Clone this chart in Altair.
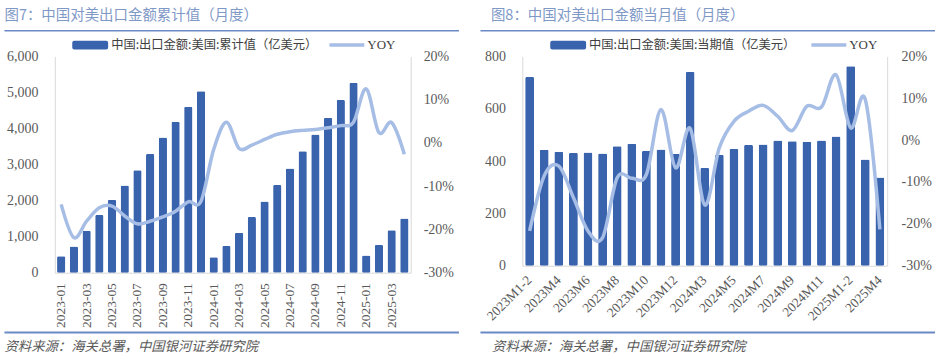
import altair as alt
import pandas as pd

# ---------------- data ----------------
months_l = ["2023-01", "2023-02", "2023-03", "2023-04", "2023-05", "2023-06",
            "2023-07", "2023-08", "2023-09", "2023-10", "2023-11", "2023-12",
            "2024-01", "2024-02", "2024-03", "2024-04", "2024-05", "2024-06",
            "2024-07", "2024-08", "2024-09", "2024-10", "2024-11", "2024-12",
            "2025-01", "2025-02", "2025-03", "2025-04"]
cum_value = [455, 725, 1165, 1600, 2025, 2420, 2845, 3290, 3750, 4190, 4605, 5030,
             430, 740, 1110, 1545, 1975, 2430, 2890, 3370, 3830, 4300, 4790, 5270,
             480, 770, 1175, 1500]
cum_yoy = [-14.2, -21.9, -18.1, -15.0, -14.6, -16.9, -18.7, -18.1, -17.1, -15.8, -13.6, -13.5,
           -1.5, 4.8, -1.3, -0.5, 0.8, 2.0, 2.6, 2.9, 3.1, 3.5, 4.0, 4.8,
           12.5, 2.4, 4.7, -2.6]
ticks_l = ["2023-01", "2023-03", "2023-05", "2023-07", "2023-09", "2023-11",
           "2024-01", "2024-03", "2024-05", "2024-07", "2024-09", "2024-11",
           "2025-01", "2025-03"]

months_r = ["2023M1-2", "2023M3", "2023M4", "2023M5", "2023M6", "2023M7", "2023M8",
            "2023M9", "2023M10", "2023M11", "2023M12",
            "2024M1-2", "2024M3", "2024M4", "2024M5", "2024M6", "2024M7", "2024M8",
            "2024M9", "2024M10", "2024M11", "2024M12",
            "2025M1-2", "2025M3", "2025M4"]
mon_value = [721, 443, 436, 431, 433, 429, 457, 466, 438, 444, 427,
             740, 373, 423, 446, 461, 463, 479, 476, 474, 479, 494,
             762, 406, 337]
mon_yoy = [-21.7, -8.5, -6.2, -13.7, -21.7, -23.3, -9.0, -9.1, -8.2, 7.3, -6.6,
           2.8, -15.5, -1.8, 4.5, 6.9, 8.3, 5.7, 2.3, 8.1, 7.9, 15.6,
           2.9, 9.7, -21.3]
ticks_r = ["2023M1-2", "2023M4", "2023M6", "2023M8", "2023M10", "2023M12",
           "2024M3", "2024M5", "2024M7", "2024M9", "2024M11", "2025M1-2", "2025M4"]

title_l = "图7：中国对美出口金额累计值（月度）"
title_r = "图8：中国对美出口金额当月值（月度）"
legend_l = "中国:出口金额:美国:累计值（亿美元）"
legend_r = "中国:出口金额:美国:当期值（亿美元）"
source_txt = "资料来源：海关总署，中国银河证券研究院"

# ---------------- styles ----------------
FONT_NUM = "Liberation Serif"
FONT_CJK = "Noto Sans CJK SC"
BAR = "#3A63AD"
LINE = "#A6BDE5"
TITLE_C = "#7F99C7"
RULE_C = "#6A8AC6"
AX = "#595959"
DOM = "#D9D9D9"


def one():
    return pd.DataFrame({"k": [0]})


def panel(cats, vals, yoy, ticks, title, legend, W, H, ymax, ystep, lay):
    df = pd.DataFrame({"cat": cats, "val": vals, "yoy": yoy})
    xscale = alt.Scale(paddingInner=lay["pi"], paddingOuter=lay["pi"] / 2)
    xaxis = alt.Axis(title=None, values=ticks, labelAngle=lay["ang"], labelAlign="right",
                     labelBaseline="middle", labelPadding=lay["xlp"], ticks=False,
                     domainColor=DOM, domainWidth=1, labelFont=FONT_NUM, labelFontSize=13.5,
                     labelColor=AX, labelOverlap=False)
    bars = alt.Chart(df).mark_bar(color=BAR, cornerRadius=1.5).encode(
        x=alt.X("cat:N", sort=cats, scale=xscale, axis=xaxis),
        y=alt.Y("val:Q", scale=alt.Scale(domain=[0, ymax], nice=False),
                axis=alt.Axis(title=None, orient="left", values=list(range(0, ymax + 1, ystep)),
                              format=",.0f", grid=False, ticks=False, domainColor=DOM,
                              labelFont=FONT_NUM, labelFontSize=14, labelColor=AX,
                              labelPadding=lay["ylp"])),
    )
    line = alt.Chart(df).mark_line(color=LINE, strokeWidth=3.5, interpolate="cardinal").encode(
        x=alt.X("cat:N", sort=cats),
        y=alt.Y("yoy:Q", scale=alt.Scale(domain=[-30, 20], nice=False),
                axis=alt.Axis(title=None, orient="right", values=[-30, -20, -10, 0, 10, 20],
                              labelExpr="datum.value + '%'", grid=False, ticks=False,
                              domainColor=DOM, labelFont=FONT_NUM, labelFontSize=14,
                              labelColor=AX, labelPadding=lay["y2lp"])),
    )
    deco = [
        alt.Chart(one()).mark_rule(opacity=0).encode(
            x=alt.value(lay["a0"]), x2=alt.value(lay["a1"]), y=alt.value(-55)),
        alt.Chart(one()).mark_rule(opacity=0).encode(
            x=alt.value(lay["a0"]), x2=alt.value(lay["a1"]), y=alt.value(301)),
        alt.Chart(one()).mark_text(text=title, align="left", baseline="middle", font=FONT_CJK,
                                   fontSize=14.5, color=TITLE_C).encode(
            x=alt.value(lay["tx"]), y=alt.value(-41)),
        alt.Chart(one()).mark_rule(color=RULE_C, strokeWidth=1.6).encode(
            x=alt.value(lay["r0"]), x2=alt.value(lay["r1"]), y=alt.value(-25.7)),
        alt.Chart(one()).mark_rect(color=BAR, cornerRadius=2).encode(
            x=alt.value(lay["s0"]), x2=alt.value(lay["s0"] + 36),
            y=alt.value(-15.7), y2=alt.value(-7)),
        alt.Chart(one()).mark_text(text=legend, align="left", baseline="middle", font=FONT_CJK,
                                   fontSize=12.3, color="#404040").encode(
            x=alt.value(lay["s0"] + 39), y=alt.value(-11.5)),
        alt.Chart(one()).mark_rule(color=LINE, strokeWidth=3.5).encode(
            x=alt.value(lay["l0"]), x2=alt.value(lay["l0"] + 35), y=alt.value(-11.5)),
        alt.Chart(one()).mark_text(text="YOY", align="left", baseline="middle", font=FONT_NUM,
                                   fontSize=13, color="#404040").encode(
            x=alt.value(lay["l0"] + 38), y=alt.value(-11.5)),
        alt.Chart(one()).mark_rule(color=RULE_C, strokeWidth=2).encode(
            x=alt.value(lay["r0"]), x2=alt.value(lay["r1"]), y=alt.value(277)),
        alt.Chart(one()).mark_text(text=source_txt, align="left", baseline="middle",
                                   font=FONT_CJK, fontSize=13.4, fontStyle="italic",
                                   color=AX).encode(
            x=alt.value(lay["sx"]), y=alt.value(292)),
    ]
    return alt.layer(bars, line, *deco).resolve_scale(y="independent").properties(
        width=W, height=H)


left = panel(months_l, cum_value, cum_yoy, ticks_l, title_l, legend_l, 357, 217, 6000, 1000,
             dict(pi=0.35, ang=-90, xlp=10, ylp=17, y2lp=12.5,
                  a0=-54.5, a1=415.5, tx=-50.5, r0=-50.5, r1=405.5,
                  s0=17.5, l0=275.5, sx=-50.5))
right = panel(months_r, mon_value, mon_yoy, ticks_r, title_r, legend_r, 366, 210, 800, 200,
              dict(pi=0.39, ang=-45, xlp=12, ylp=17, y2lp=14,
                   a0=-52, a1=415, tx=-31.5, r0=-42, r1=414,
                   s0=28, l0=290, sx=-30.3))

chart = alt.hconcat(left, right, spacing=0).properties(padding=0).configure_view(
    stroke="transparent")

chart.save("out.html", embed_options={"renderer": "svg", "actions": False})
